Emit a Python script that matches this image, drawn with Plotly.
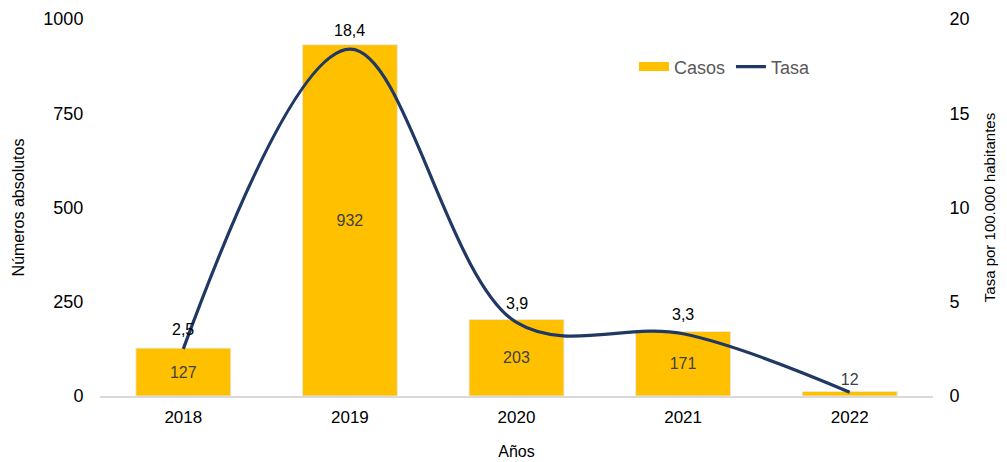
import plotly.graph_objects as go

# Datos
anios = ['2018', '2019', '2020', '2021', '2022']
casos = [127, 932, 203, 171, 12]
tasa = [2.5, 18.4, 3.9, 3.3, 0.2]
tasa_etiquetas = ['2,5', '18,4', '3,9', '3,3', '']

FONT = 'Liberation Sans, Arial, sans-serif'
AMARILLO = '#FFC000'
AZUL = '#203864'
INVISIBLE = 'rgba(0,0,0,0)'

fig = go.Figure()

# Barras de casos (etiqueta dentro, salvo la barra pequena que va encima)
fig.add_trace(go.Bar(
    name='Casos', x=anios, y=casos, showlegend=False,
    marker_color=AMARILLO, width=0.57,
    text=[str(c) if c > 50 else '' for c in casos],
    textposition='inside', insidetextanchor='middle',
    textfont=dict(family=FONT, size=16, color='#404040'),
))
fig.add_trace(go.Bar(
    x=anios, y=casos, showlegend=False, marker_color=INVISIBLE, width=0.57,
    text=[str(c) if c <= 50 else '' for c in casos],
    textposition='outside', cliponaxis=False,
    textfont=dict(family=FONT, size=16, color='#404040'),
    hoverinfo='skip',
))

# Linea de tasa
fig.add_trace(go.Scatter(
    name='Tasa', x=anios, y=tasa, yaxis='y2', mode='lines', showlegend=False,
    line=dict(color=AZUL, width=3.2, shape='spline', smoothing=1.0),
))

# Entradas de leyenda (rectangulo ancho como en el original)
fig.add_trace(go.Scatter(name='Casos', x=[anios[0]], y=[None], mode='lines',
                         line=dict(color=AMARILLO, width=9), hoverinfo='skip'))
fig.add_trace(go.Scatter(name='Tasa', x=[anios[0]], y=[None], mode='lines',
                         line=dict(color=AZUL, width=3.2), hoverinfo='skip'))

# Etiquetas de la tasa (x como indice de categoria)
for i, (t, lab) in enumerate(zip(tasa, tasa_etiquetas)):
    if lab:
        fig.add_annotation(x=i, y=t, xref='x', yref='y2', text=lab, showarrow=False,
                           yshift=19, font=dict(family=FONT, size=16, color='#000000'))

fig.update_layout(
    width=999, height=454,
    margin=dict(l=92, r=74, t=11, b=66, autoexpand=False),
    plot_bgcolor='white', paper_bgcolor='white',
    barmode='overlay',
    font=dict(family=FONT, size=17, color='#000000'),
    showlegend=True,
    legend=dict(orientation='h', x=0.641, y=0.873, xanchor='left', yanchor='middle',
                font=dict(family=FONT, size=18, color='#595959'),
                itemwidth=30, entrywidth=52, bgcolor=INVISIBLE),
    xaxis=dict(
        type='category', categoryorder='array', categoryarray=anios,
        range=[-0.5, len(anios) - 0.5], automargin=False,
        title=dict(text='Años', font=dict(size=16), standoff=20),
        showline=True, linecolor='#D9D9D9', linewidth=1.5,
        ticks='outside', ticklen=5, tickcolor=INVISIBLE,
        tickfont=dict(size=17), showgrid=False,
    ),
    yaxis=dict(
        title=dict(text='Números absolutos', font=dict(size=16), standoff=14),
        range=[0, 1000], tickvals=[0, 250, 500, 750, 1000], automargin=False,
        showgrid=False, zeroline=False, tickfont=dict(size=18),
        ticks='outside', ticklen=12, tickcolor=INVISIBLE,
    ),
    yaxis2=dict(
        title=dict(text='Tasa por 100.000 habitantes', font=dict(size=15), standoff=15),
        range=[0, 20], tickvals=[0, 5, 10, 15, 20], automargin=False,
        overlaying='y', side='right',
        showgrid=False, zeroline=False, tickfont=dict(size=18),
        ticks='outside', ticklen=12, tickcolor=INVISIBLE,
    ),
)

fig.write_html('out.html')
